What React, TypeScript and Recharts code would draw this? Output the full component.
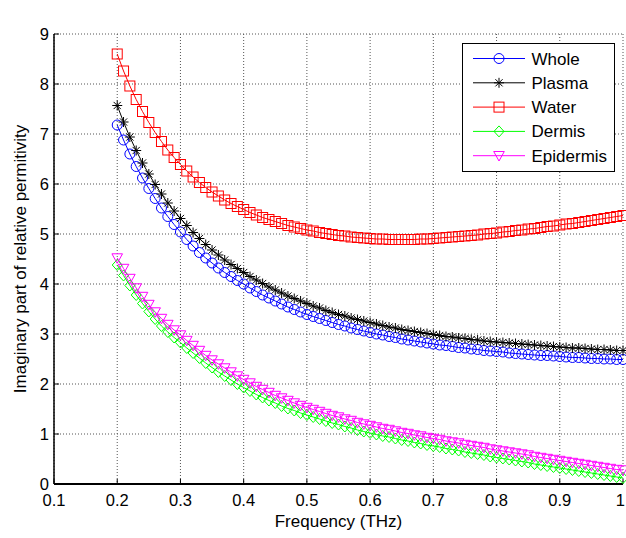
import React from "react";
import { LineChart, Line, XAxis, YAxis, CartesianGrid, Legend } from "recharts";

const freq = [
  0.2, 0.21, 0.22, 0.23, 0.24, 0.25, 0.26, 0.27, 0.28, 0.29,
  0.3, 0.31, 0.32, 0.33, 0.34, 0.35, 0.36, 0.37, 0.38, 0.39,
  0.4, 0.41, 0.42, 0.43, 0.44, 0.45, 0.46, 0.47, 0.48, 0.49,
  0.5, 0.51, 0.52, 0.53, 0.54, 0.55, 0.56, 0.57, 0.58, 0.59,
  0.6, 0.61, 0.62, 0.63, 0.64, 0.65, 0.66, 0.67, 0.68, 0.69,
  0.7, 0.71, 0.72, 0.73, 0.74, 0.75, 0.76, 0.77, 0.78, 0.79,
  0.8, 0.81, 0.82, 0.83, 0.84, 0.85, 0.86, 0.87, 0.88, 0.89,
  0.9, 0.91, 0.92, 0.93, 0.94, 0.95, 0.96, 0.97, 0.98, 0.99,
  1.0,
];

const whole = [
  7.18, 6.88, 6.6, 6.35, 6.12, 5.91, 5.71, 5.52, 5.35, 5.19,
  5.04, 4.89, 4.76, 4.63, 4.52, 4.42, 4.32, 4.23, 4.15, 4.07,
  4.0, 3.92, 3.85, 3.78, 3.72, 3.66, 3.6, 3.54, 3.49, 3.44,
  3.39, 3.35, 3.31, 3.27, 3.23, 3.19, 3.16, 3.12, 3.09, 3.06,
  3.03, 3.0, 2.98, 2.95, 2.93, 2.9, 2.88, 2.86, 2.84, 2.82,
  2.8, 2.78, 2.77, 2.75, 2.73, 2.72, 2.7, 2.69, 2.67, 2.66,
  2.65, 2.64, 2.62, 2.61, 2.6, 2.59, 2.58, 2.57, 2.57, 2.56,
  2.55, 2.54, 2.53, 2.53, 2.52, 2.51, 2.51, 2.5, 2.5, 2.49,
  2.49,
];

const plasma = [
  7.57, 7.24, 6.94, 6.67, 6.42, 6.2, 5.99, 5.8, 5.62, 5.46,
  5.31, 5.17, 5.03, 4.91, 4.79, 4.68, 4.58, 4.48, 4.39, 4.31,
  4.23, 4.15, 4.08, 4.01, 3.94, 3.88, 3.82, 3.76, 3.71, 3.66,
  3.61, 3.56, 3.52, 3.47, 3.43, 3.39, 3.36, 3.32, 3.29, 3.26,
  3.23, 3.2, 3.17, 3.14, 3.12, 3.09, 3.07, 3.05, 3.03, 3.01,
  2.99, 2.97, 2.95, 2.94, 2.92, 2.91, 2.89, 2.88, 2.86, 2.85,
  2.84, 2.83, 2.82, 2.81, 2.8, 2.79, 2.78, 2.77, 2.76, 2.75,
  2.74, 2.73, 2.72, 2.72, 2.71, 2.7, 2.69, 2.69, 2.68, 2.67,
  2.67,
];

const water = [
  8.6, 8.26, 7.96, 7.69, 7.45, 7.23, 7.03, 6.85, 6.68, 6.53,
  6.39, 6.26, 6.14, 6.03, 5.93, 5.84, 5.76, 5.68, 5.61, 5.55,
  5.49, 5.43, 5.38, 5.33, 5.29, 5.25, 5.21, 5.17, 5.14, 5.11,
  5.08, 5.06, 5.03, 5.01, 4.99, 4.97, 4.96, 4.94, 4.93, 4.92,
  4.91, 4.9, 4.9, 4.89, 4.89, 4.89, 4.89, 4.89, 4.9, 4.9,
  4.91, 4.92, 4.93, 4.94, 4.95, 4.96, 4.97, 4.98, 5.0, 5.01,
  5.02, 5.04, 5.05, 5.07, 5.08, 5.1, 5.11, 5.13, 5.15, 5.16,
  5.18, 5.2, 5.21, 5.23, 5.25, 5.27, 5.29, 5.31, 5.33, 5.35,
  5.37,
];

const dermis = [
  4.38, 4.17, 3.97, 3.78, 3.61, 3.45, 3.3, 3.16, 3.04, 2.93,
  2.83, 2.72, 2.62, 2.52, 2.42, 2.33, 2.24, 2.16, 2.08, 2.0,
  1.93, 1.86, 1.79, 1.73, 1.67, 1.62, 1.56, 1.51, 1.47, 1.42,
  1.38, 1.34, 1.3, 1.26, 1.22, 1.19, 1.15, 1.12, 1.08, 1.05,
  1.02, 0.99, 0.96, 0.94, 0.91, 0.88, 0.86, 0.83, 0.81, 0.78,
  0.76, 0.74, 0.71, 0.69, 0.67, 0.64, 0.62, 0.6, 0.58, 0.55,
  0.53, 0.51, 0.49, 0.47, 0.45, 0.43, 0.4, 0.38, 0.36, 0.34,
  0.32, 0.3, 0.28, 0.26, 0.24, 0.22, 0.2, 0.18, 0.16, 0.14,
  0.12,
];

const epidermis = [
  4.52, 4.31, 4.11, 3.92, 3.75, 3.59, 3.44, 3.31, 3.19, 3.08,
  2.98, 2.87, 2.77, 2.67, 2.57, 2.48, 2.4, 2.32, 2.24, 2.16,
  2.09, 2.02, 1.95, 1.89, 1.83, 1.77, 1.72, 1.67, 1.62, 1.57,
  1.53, 1.49, 1.45, 1.41, 1.37, 1.34, 1.3, 1.27, 1.23, 1.2,
  1.17, 1.14, 1.11, 1.09, 1.06, 1.03, 1.01, 0.98, 0.96, 0.93,
  0.91, 0.89, 0.86, 0.84, 0.82, 0.79, 0.77, 0.75, 0.73, 0.7,
  0.68, 0.66, 0.64, 0.62, 0.6, 0.58, 0.55, 0.53, 0.51, 0.49,
  0.47, 0.45, 0.43, 0.41, 0.39, 0.37, 0.35, 0.33, 0.31, 0.29,
  0.28,
];

const xTicks = [0.1, 0.2, 0.3, 0.4, 0.5, 0.6, 0.7, 0.8, 0.9, 1];
const yTicks = [0, 1, 2, 3, 4, 5, 6, 7, 8, 9];

const seriesNames = ["Whole", "Plasma", "Water", "Dermis", "Epidermis"];
const seriesKeys = ["whole", "plasma", "water", "dermis", "epidermis"];
const seriesColors = ["#0000ff", "#000000", "#ff0000", "#00ff00", "#ff00ff"];
const seriesMarkers = ["circle", "star", "square", "diamond", "triangleDown"];

const titleText = "Epsilon Imaginary";
const xLabelText = "Frequency (THz)";
const yLabelText = "Imaginary part of relative permitivity";

const FONT = '"Liberation Sans", Arial, Helvetica, sans-serif';

const rows = freq.map((f, i) => ({
  f,
  whole: whole[i],
  plasma: plasma[i],
  water: water[i],
  dermis: dermis[i],
  epidermis: epidermis[i],
}));

function Marker({ kind, cx, cy, color }: { kind: string; cx: number; cy: number; color: string }) {
  if (cx == null || cy == null || isNaN(cx) || isNaN(cy)) return null;
  const r = 5;
  switch (kind) {
    case "circle":
      return <circle cx={cx} cy={cy} r={r} fill="none" stroke={color} strokeWidth={1} />;
    case "star": {
      const d = 3.6;
      return (
        <g stroke={color} strokeWidth={1}>
          <line x1={cx - r} y1={cy} x2={cx + r} y2={cy} />
          <line x1={cx} y1={cy - r} x2={cx} y2={cy + r} />
          <line x1={cx - d} y1={cy - d} x2={cx + d} y2={cy + d} />
          <line x1={cx - d} y1={cy + d} x2={cx + d} y2={cy - d} />
        </g>
      );
    }
    case "square":
      return <rect x={cx - r} y={cy - r} width={2 * r} height={2 * r} fill="none" stroke={color} strokeWidth={1} />;
    case "diamond":
      return (
        <polygon
          points={`${cx},${cy - 5.5} ${cx + 5},${cy} ${cx},${cy + 5.5} ${cx - 5},${cy}`}
          fill="none"
          stroke={color}
          strokeWidth={1}
        />
      );
    case "triangleDown":
      return (
        <polygon
          points={`${cx - 5.3},${cy - 4.2} ${cx + 5.3},${cy - 4.2} ${cx},${cy + 5.3}`}
          fill="none"
          stroke={color}
          strokeWidth={1}
        />
      );
    default:
      return null;
  }
}

function XTick(props: any) {
  const { x, y, payload } = props;
  const isLast = payload.value === 1;
  return (
    <text
      x={isLast ? Math.min(x + 4, 625) : x}
      y={y}
      dy="0.71em"
      textAnchor={isLast ? "end" : "middle"}
      fill="#000"
      fontSize={16.5}
      fontFamily={FONT}
    >
      {String(payload.value)}
    </text>
  );
}

function LegendBox() {
  const w = 153;
  const h = 129;
  return (
    <svg width={w} height={h} style={{ display: "block" }}>
      <rect x={0.5} y={0.5} width={w - 1} height={h - 1} fill="#ffffff" stroke="#000000" strokeWidth={1} />
      {seriesNames.map((name, i) => {
        const y = 15.5 + 24.3 * i;
        return (
          <g key={name}>
            <line x1={11} y1={y} x2={63} y2={y} stroke={seriesColors[i]} strokeWidth={1} />
            <Marker kind={seriesMarkers[i]} cx={37} cy={y} color={seriesColors[i]} />
            <text x={69.5} y={y + 6} fontSize={17} fontFamily={FONT} fill="#000">
              {name}
            </text>
          </g>
        );
      })}
    </svg>
  );
}

export default function App() {
  return (
    <div style={{ position: "absolute", left: 0, top: 0, width: 626, height: 538, background: "#fff" }}>
      <LineChart width={626} height={538} data={rows} margin={{ top: 34, right: 3, bottom: 0, left: 0 }}>
        <CartesianGrid stroke="#555555" strokeDasharray="1 2" strokeWidth={1} />
        <XAxis
          dataKey="f"
          type="number"
          domain={[0.1, 1]}
          ticks={xTicks}
          interval={0}
          height={54}
          tickSize={-5}
          tickMargin={15}
          axisLine={{ stroke: "#000", strokeWidth: 2 }}
          tickLine={{ stroke: "#000" }}
          tick={<XTick />}
          label={{ value: xLabelText, position: "insideBottom", offset: 11, fill: "#000", fontSize: 17, fontFamily: FONT }}
        />
        <XAxis
          xAxisId="top"
          dataKey="f"
          orientation="top"
          type="number"
          domain={[0.1, 1]}
          ticks={xTicks}
          interval={0}
          height={0}
          tickSize={-5}
          tick={false}
          axisLine={{ stroke: "#000", strokeWidth: 1 }}
          tickLine={{ stroke: "#000" }}
          label={{ value: titleText, position: "top", offset: 8, fill: "#000", fontSize: 17, fontFamily: FONT }}
        />
        <YAxis
          type="number"
          domain={[0, 9]}
          ticks={yTicks}
          interval={0}
          width={54}
          tickSize={-5}
          tickMargin={10}
          axisLine={{ stroke: "#000", strokeWidth: 1.5 }}
          tickLine={{ stroke: "#000" }}
          tick={{ fill: "#000", fontSize: 16.5, fontFamily: FONT }}
          label={{
            value: yLabelText,
            angle: -90,
            position: "insideLeft",
            offset: 20,
            fill: "#000",
            fontSize: 17,
            fontFamily: FONT,
            style: { textAnchor: "middle" },
          }}
        />
        <YAxis
          yAxisId="right"
          orientation="right"
          type="number"
          domain={[0, 9]}
          ticks={yTicks}
          interval={0}
          width={0}
          tickSize={-5}
          tick={false}
          axisLine={{ stroke: "#000", strokeWidth: 2 }}
          tickLine={{ stroke: "#000" }}
        />
        {seriesKeys.map((key, i) => (
          <Line
            key={key}
            dataKey={key}
            name={seriesNames[i]}
            type="linear"
            stroke={seriesColors[i]}
            strokeWidth={1}
            isAnimationActive={false}
            dot={(props: any) => (
              <Marker
                key={`${key}-${props.index}`}
                kind={seriesMarkers[i]}
                cx={props.cx}
                cy={props.cy}
                color={seriesColors[i]}
              />
            )}
            activeDot={false}
          />
        ))}
        <Legend
          layout="vertical"
          align="center"
          verticalAlign="middle"
          content={() => <LegendBox />}
          wrapperStyle={{ position: "absolute", left: 462, top: 43, width: 153, height: 129 }}
        />
      </LineChart>
    </div>
  );
}
